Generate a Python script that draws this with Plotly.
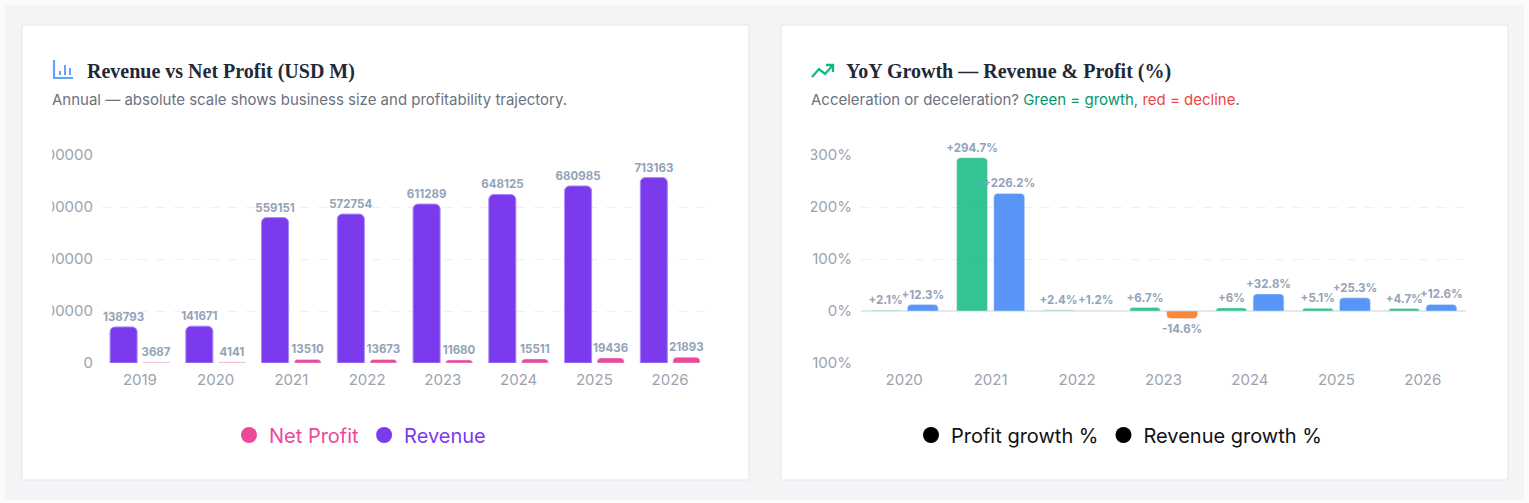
"""
Two-card dashboard: Revenue vs Net Profit (absolute) and YoY growth (%).
"""
# standard imports

# 3rd party imports
import plotly.graph_objects as go

# ---- data ----------------------------------------------------------------
years = ["2019", "2020", "2021", "2022", "2023", "2024", "2025", "2026"]
revenue = [138793, 141671, 559151, 572754, 611289, 648125, 680985, 713163]
net_profit = [3687, 4141, 13510, 13673, 11680, 15511, 19436, 21893]

growth_years = ["2020", "2021", "2022", "2023", "2024", "2025", "2026"]
profit_growth = [2.1, 294.7, 2.4, 6.7, 6, 5.1, 4.7]
revenue_growth = [12.3, 226.2, 1.2, -14.6, 32.8, 25.3, 12.6]

left_ticks = [0, 200000, 400000, 600000, 800000]
right_ticks = [-100, 0, 100, 200, 300]

# bars drawn faded in the reference (near-flat values)
profit_faded = [True, True, False, False, False, False, False, False]
pg_faded = [True, False, True, False, False, False, False]
rg_faded = [False, False, True, False, False, False, False]

W, H = 1529, 503
FONT = "Inter"
TICK_COLOR = "#9ca3af"
LABEL_COLOR = "#94a3b8"


def px(x):
    return x / W


def py(y):
    return 1 - y / H


def rgba(hex_col, alpha):
    h = hex_col.lstrip("#")
    r, g, b = int(h[0:2], 16), int(h[2:4], 16), int(h[4:6], 16)
    return f"rgba({r},{g},{b},{alpha})"


def path(points):
    """pixel points -> paper path string"""
    return "M " + " L ".join(f"{px(x):.5f},{py(y):.5f}" for x, y in points)


fig = go.Figure()
label_font = dict(family=FONT, size=11.5, color=LABEL_COLOR, weight=700)

# ---- left chart: revenue vs net profit -------------------------------------
fig.add_trace(go.Bar(
    x=years, y=revenue, name="Revenue", showlegend=False,
    marker=dict(color="#7c3aed", cornerradius=5, line=dict(color="#a78bfa", width=1)),
    text=[str(v) for v in revenue], textposition="outside", cliponaxis=False,
    constraintext="none", textfont=label_font,
    xaxis="x", yaxis="y",
))
fig.add_trace(go.Bar(
    x=years, y=net_profit, name="Net Profit", showlegend=False,
    marker=dict(color=[rgba("#ec4899", 0.5 if f else 1) for f in profit_faded],
                cornerradius=4),
    text=[str(v) for v in net_profit], textposition="outside", cliponaxis=False,
    constraintext="none", textfont=label_font,
    xaxis="x", yaxis="y",
))

# ---- right chart: yoy growth ----------------------------------------------
fig.add_trace(go.Bar(
    x=growth_years, y=profit_growth, name="Profit growth %", showlegend=False,
    marker=dict(color=[rgba("#10b981", 0.3 if f else 0.85) if v >= 0 else rgba("#ef4444", 0.85)
                       for v, f in zip(profit_growth, pg_faded)],
                cornerradius=4),
    text=[f"{v:+g}%" for v in profit_growth], textposition="outside", cliponaxis=False,
    constraintext="none", textfont=label_font,
    xaxis="x2", yaxis="y2",
))
fig.add_trace(go.Bar(
    x=growth_years, y=revenue_growth, name="Revenue growth %", showlegend=False,
    marker=dict(color=[rgba("#3b82f6", 0.15 if f else 0.85) if v >= 0 else rgba("#f97316", 0.85)
                       for v, f in zip(revenue_growth, rg_faded)],
                cornerradius=4),
    text=[f"{v:+g}%" for v in revenue_growth], textposition="outside", cliponaxis=False,
    constraintext="none", textfont=label_font,
    xaxis="x2", yaxis="y2",
))

# legend-only traces (round markers like the original)
for name, col, leg in [
    ("<span style='color:#ec4899'>Net Profit</span>", "#ec4899", "legend"),
    ("<span style='color:#7c3aed'>Revenue</span>", "#7c3aed", "legend"),
    ("Profit growth %", "#000000", "legend2"),
    ("Revenue growth %", "#000000", "legend2"),
]:
    fig.add_trace(go.Scatter(
        x=[None], y=[None], mode="markers", name=name, legend=leg,
        marker=dict(symbol="circle", size=18, color=col),
        xaxis="x", yaxis="y",
    ))

axis_common = dict(showline=False, ticks="", fixedrange=True, automargin=False,
                   tickfont=dict(family=FONT, size=15, color=TICK_COLOR))

fig.update_layout(
    width=W, height=H,
    margin=dict(l=0, r=0, t=0, b=0, pad=0, autoexpand=False),
    paper_bgcolor="#fbfbfc",
    plot_bgcolor="rgba(0,0,0,0)",
    font=dict(family=FONT, color="#374151"),
    barmode="group", bargap=0.14, bargroupgap=0.17,
    xaxis=dict(domain=[px(102), px(708)], anchor="y", showgrid=False, zeroline=False,
               ticklabelstandoff=6, **axis_common),
    yaxis=dict(domain=[py(363), py(155)], anchor="x", range=[0, 800000],
               tickvals=left_ticks, ticktext=[str(v) for v in left_ticks],
               showgrid=True, gridcolor="#eef0f3", griddash="dash", gridwidth=1,
               zeroline=False, ticklabelstandoff=8, **axis_common),
    xaxis2=dict(domain=[px(861), px(1466)], anchor="y2", showgrid=False, zeroline=False,
                ticklabelstandoff=6, **axis_common),
    yaxis2=dict(domain=[py(363), py(155)], anchor="x2", range=[-100, 300],
                tickvals=right_ticks, ticktext=[f"{v}%" for v in right_ticks],
                showgrid=True, gridcolor="#eef0f3", griddash="dash", gridwidth=1,
                zeroline=True, zerolinecolor="#e5e7eb", zerolinewidth=2,
                ticklabelstandoff=8, **axis_common),
    legend=dict(orientation="h", x=px(360), xanchor="center", y=py(435), yanchor="middle",
                font=dict(family=FONT, size=20), itemwidth=30, bgcolor="rgba(0,0,0,0)"),
    legend2=dict(orientation="h", x=px(1119), xanchor="center", y=py(435), yanchor="middle",
                 font=dict(family=FONT, size=20, color="#111111"), itemwidth=30,
                 bgcolor="rgba(0,0,0,0)"),
)

# ---- background panel and cards -------------------------------------------
shapes = [
    dict(type="rect", xref="paper", yref="paper", x0=px(5), x1=px(1524), y0=py(500), y1=py(5),
         fillcolor="#f3f4f6", line=dict(width=0), layer="below"),
]
for x0, x1 in [(22, 749), (781, 1508)]:
    shapes.append(dict(type="rect", xref="paper", yref="paper",
                       x0=px(x0), x1=px(x1), y0=py(480), y1=py(25),
                       fillcolor="#ffffff", line=dict(color="#e3e5e9", width=1), layer="below"))
    # chart container clips the y tick labels at the card padding
    shapes.append(dict(type="rect", xref="paper", yref="paper",
                       x0=px(x0 + 1), x1=px(x0 + 30), y0=py(375), y1=py(140),
                       fillcolor="#ffffff", line=dict(width=0), layer="above"))

# bar-chart icon
icon_blue = "#60a5fa"
shapes.append(dict(type="path", xref="paper", yref="paper",
                   path=path([(54, 60), (54, 78), (73, 78)]),
                   line=dict(color=icon_blue, width=2.2)))
for bx, top in [(60, 71), (65, 65), (70, 68)]:
    shapes.append(dict(type="path", xref="paper", yref="paper",
                       path=path([(bx, top), (bx, 75)]),
                       line=dict(color=icon_blue, width=2)))
# trending-up icon
icon_green = "#10b981"
shapes.append(dict(type="path", xref="paper", yref="paper",
                   path=path([(812, 77), (819, 69), (825, 74), (833, 65)]),
                   line=dict(color=icon_green, width=2.3)))
shapes.append(dict(type="path", xref="paper", yref="paper",
                   path=path([(826, 65), (833, 65), (833, 72)]),
                   line=dict(color=icon_green, width=2.3)))
fig.update_layout(shapes=shapes)

# ---- titles ---------------------------------------------------------------
title_font = dict(family="Liberation Serif", size=20, color="#1f2937", weight=700)
sub_font = dict(family=FONT, size=15, color="#6b7280")
fig.add_annotation(x=px(85), y=py(71), xref="paper", yref="paper", xanchor="left",
                   yanchor="middle", showarrow=False, font=title_font,
                   text="Revenue vs Net Profit (USD M)")
fig.add_annotation(x=px(50), y=py(100), xref="paper", yref="paper", xanchor="left",
                   yanchor="middle", showarrow=False, font=sub_font,
                   text="Annual — absolute scale shows business size and profitability trajectory.")
fig.add_annotation(x=px(844), y=py(71), xref="paper", yref="paper", xanchor="left",
                   yanchor="middle", showarrow=False, font=title_font,
                   text="YoY Growth — Revenue & Profit (%)")
fig.add_annotation(x=px(809), y=py(100), xref="paper", yref="paper", xanchor="left",
                   yanchor="middle", showarrow=False, font=sub_font,
                   text="Acceleration or deceleration? "
                        "<span style='color:#059669'>Green = growth</span>, "
                        "<span style='color:#ef4444'>red = decline</span>.")

fig.write_html("out.html", config={"displayModeBar": False},
               post_script="document.body.style.margin='0';")
